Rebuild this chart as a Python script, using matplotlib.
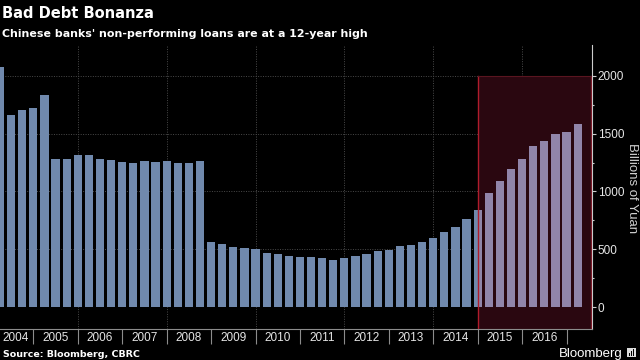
import matplotlib
matplotlib.use("Agg")
import matplotlib.pyplot as plt
from matplotlib.patches import Rectangle

# quarterly NPLs, 2004Q1 .. 2017Q1, billions of yuan
quarters = [f"{y}Q{q}" for y in range(2004, 2018) for q in range(1, 5)][:53]
npl = [2078, 1663, 1701, 1718,
       1831, 1278, 1283, 1312,
       1312, 1283, 1272, 1255,
       1243, 1266, 1255, 1266,
       1243, 1243, 1266, 564,
       549, 518, 509, 501,
       472, 457, 440, 434,
       434, 423, 411, 428,
       440, 457, 483, 495,
       527, 541, 564, 596,
       648, 696, 765, 843,
       984, 1093, 1192, 1278,
       1390, 1439, 1494, 1511,
       1580]
years = list(range(2004, 2017))
y_ticks = [0, 500, 1000, 1500, 2000]

BG = "black"
BAR = "#7089ad"
BAR_HI = "#9185aa"
BOX_FILL = "#2a0710"
BOX_EDGE = "#b01c2c"
GRID = "#4a4a4a"
TXT = "#e6e6e6"

fig = plt.figure(figsize=(6.4, 3.6), dpi=100, facecolor=BG)
ax = fig.add_axes([0.0, 0.0853, 0.9245, 0.7897], facecolor=BG)

x = list(range(len(npl)))
xmax = 53.26
ymin, ymax = -190, 2265
ax.set_xlim(0, xmax)
ax.set_ylim(ymin, ymax)

# highlight box from 2015 on
box_x0 = quarters.index("2014Q4")
box_x1 = xmax - 0.08
box = Rectangle((box_x0, ymin), box_x1 - box_x0, 2000 - ymin,
                facecolor=BOX_FILL, edgecolor="none", zorder=1)
ax.add_patch(box)

ax.bar(x, npl, width=0.74, color=BAR, zorder=2)
hi = ax.bar(x, npl, width=0.74, color=BAR_HI, zorder=3)
for b in hi:
    b.set_clip_path(box)

ax.plot([box_x0, box_x0], [ymin, 2000], color=BOX_EDGE, lw=1.0, zorder=4)
ax.plot([box_x1, box_x1], [ymin, 2000], color="#7a1a28", lw=1.0, zorder=4)
ax.plot([box_x0, box_x1], [2000, 2000], color="#5a1520", lw=0.8, zorder=4)

# grid
for v in y_ticks[1:]:
    ax.axhline(v, color=GRID, lw=0.7, ls=(0, (1, 1.5)), zorder=0)
for yr in range(2006, 2017, 2):
    ax.axvline((yr - 2004) * 4 - 1, color=GRID, lw=0.7, ls=(0, (1, 1.5)), zorder=0)

# spines
for s in ["left", "top"]:
    ax.spines[s].set_visible(False)
ax.spines["bottom"].set_color("#8c8c8c")
ax.spines["right"].set_color("#cccccc")
ax.spines["right"].set_linewidth(0.8)

# y axis on the right
ax.yaxis.tick_right()
ax.set_yticks(y_ticks)
ax.set_yticks(range(250, 2001, 500), minor=True)
ax.tick_params(axis="y", which="major", length=3, width=0.8, color="#cccccc",
               labelcolor=TXT, labelsize=8.5, pad=1.5)
ax.tick_params(axis="y", which="minor", length=1.5, width=0.8, color="#cccccc")
for lab in ax.get_yticklabels():
    lab.set_fontfamily("Liberation Sans")

# x axis: dividers at year boundaries, labels at year centers
ax.set_xticks([(yr - 2004) * 4 - 1 for yr in range(2005, 2018)])
ax.set_xticklabels([])
ax.tick_params(axis="x", which="major", length=11, width=0.8, color="#8c8c8c")
centers = [(yr - 2004) * 4 + 1 for yr in years]
centers[0] = 1.45
ax.set_xticks(centers, minor=True)
ax.set_xticklabels([str(y) for y in years], minor=True)
ax.tick_params(axis="x", which="minor", length=0, labelcolor=TXT,
               labelsize=8.5, pad=2)
for lab in ax.get_xticklabels(minor=True):
    lab.set_fontfamily("Liberation Sans")

fig.text(1.0 - 8 / 640, 0.478, "Billions of Yuan", rotation=270,
         ha="center", va="center", color="#d0d0d0", fontsize=9.5,
         family="Liberation Sans")

# titles
fig.text(0.003, 1 - 18 / 360, "Bad Debt Bonanza", color="white",
         fontsize=10.5, fontweight="bold", family="DejaVu Sans", va="baseline")
fig.text(0.003, 1 - 37 / 360,
         "Chinese banks' non-performing loans are at a 12-year high",
         color="white", fontsize=7.9, fontweight="bold", family="DejaVu Sans",
         va="baseline")
fig.text(0.005, 1 - 357 / 360, "Source: Bloomberg, CBRC", color="white",
         fontsize=6.8, fontweight="bold", family="DejaVu Sans", va="baseline")
fig.text(559 / 640, 1 - 357 / 360, "Bloomberg", color="white",
         fontsize=9.5, family="Liberation Sans", va="baseline")

# little logo square
fig.patches.append(Rectangle((627 / 640, 1 - 357 / 360), 9 / 640, 9 / 360,
                             transform=fig.transFigure, facecolor="#dddddd",
                             edgecolor="none"))
for i, h in enumerate([3, 5, 7]):
    fig.patches.append(Rectangle(((629 + 2 * i) / 640, 1 - 356 / 360),
                                 1.2 / 640, h / 360, transform=fig.transFigure,
                                 facecolor="black", edgecolor="none"))

fig.savefig("out.png", dpi=100, facecolor=BG)
